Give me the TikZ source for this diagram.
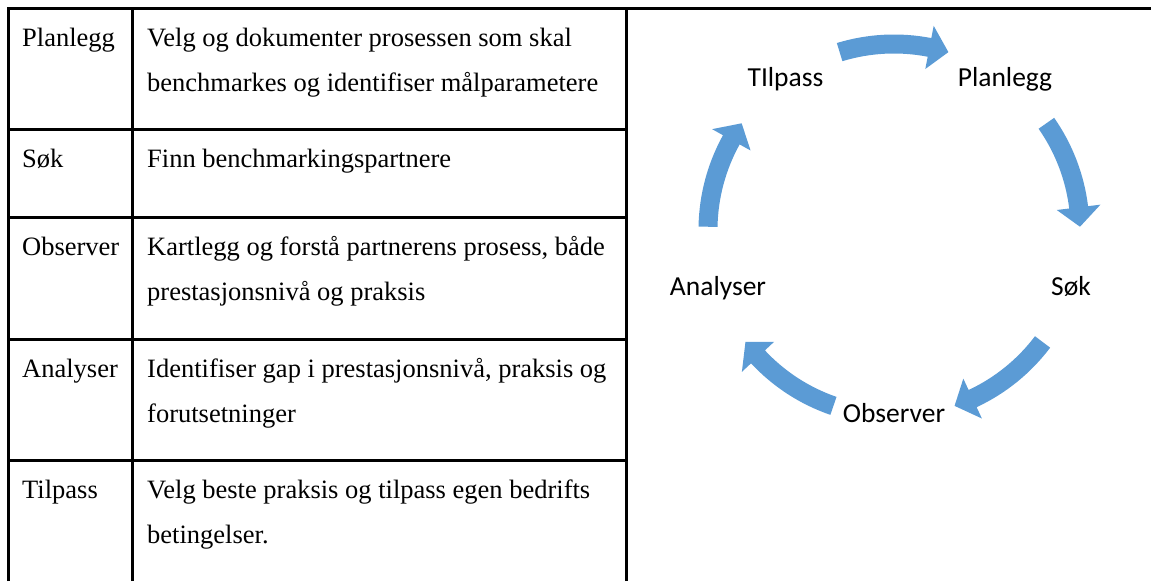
\documentclass[tikz,border=0pt]{standalone}
\usepackage{fontspec}
\setmainfont{Liberation Serif}
\newfontfamily\cyclefont{Carlito}
\usetikzlibrary{positioning}
\definecolor{cycleblue}{RGB}{91,155,213}

\begin{document}
\begin{tikzpicture}[x=1pt,y=1pt,
  grid line/.style={line width=3pt},
  cell/.style={anchor=base west,inner sep=0pt,align=left,font=\fontsize{26.5}{45}\selectfont},
  phase/.style={anchor=base,inner sep=0pt,font=\cyclefont\fontsize{27.5}{33}\selectfont},
  cycle arrow/.style={fill=cycleblue}]
  \useasboundingbox (0,0) rectangle (1151,581);

  % table (two-line cells are placed by the baseline of their last line)
  \draw[grid line] (8.5,0) |- (1151,572);
  \draw[grid line] (132,0) -- (132,572);
  \draw[grid line] (626.5,0) -- (626.5,572);
  \foreach \y in {451,363.5,241,120.5} {\draw[grid line] (8.5,\y) -- (626.5,\y);}

  \node[cell] (h1) at (22,534) {Planlegg};
  \node[cell] (d1) at (147,489) {Velg og dokumenter prosessen som skal\\benchmarkes og identifiser målparametere};
  \node[cell] (h2) at (22,413) {Søk};
  \node[cell] (d2) at (147,413) {Finn benchmarkingspartnere};
  \node[cell] (h3) at (22,325.5) {Observer};
  \node[cell] (d3) at (147,280.5) {Kartlegg og forstå partnerens prosess, både\\prestasjonsnivå og praksis};
  \node[cell] (h4) at (22,203) {Analyser};
  \node[cell] (d4) at (147,158) {Identifiser gap i prestasjonsnivå, praksis og\\forutsetninger};
  \node[cell] (h5) at (22,82.5) {Tilpass};
  \node[cell] (d5) at (147,37.5) {Velg beste praksis og tilpass egen bedrifts\\betingelser.};

  % cycle
  \coordinate (ctr) at (894,351);
  \node[phase] (tilpass) at (785.5,494) {TIlpass};
  \node[phase] (planlegg) at (1005,494) {Planlegg};
  \node[phase] (sok) at (1071,285) {Søk};
  \node[phase] (observer) at (894,158) {Observer};
  \node[phase] (analyser) at (718,285) {Analyser};
  \foreach \a in {90,18,-54,-126,162} {
    \fill[cycle arrow] ([shift={({\a+17}:195.5)}]ctr)
      arc[start angle=\a+17, end angle=\a-11, radius=195.5]
      -- ([shift={({\a-11}:208)}]ctr) -- ([shift={({\a-17}:186)}]ctr)
      -- ([shift={({\a-11}:164)}]ctr) -- ([shift={({\a-11}:176.5)}]ctr)
      arc[start angle=\a-11, end angle=\a+17, radius=176.5] -- cycle;
  }
\end{tikzpicture}
\end{document}
